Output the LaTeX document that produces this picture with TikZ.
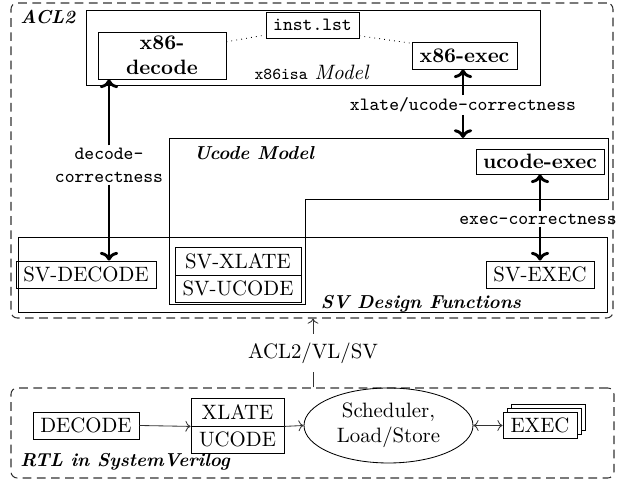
\documentclass[tikz,border=0pt]{standalone}
\usetikzlibrary{fit,shapes.geometric,shadows,arrows.meta}
\tikzset{
  box/.style={draw, inner sep=0pt},
  txt/.style={label={[inner sep=0pt, align=center]center:#1}},
  btxt/.style={label={[inner sep=0pt, align=center, font=\bfseries]center:#1}},
  thickarrow/.style={-{To[scale=0.9]}, line width=1.4pt},
  thinarrow/.style={->, black!80},
  dashedbox/.style={draw=black!80, line width=0.5pt, dash pattern=on 4.2pt off 2.6pt, rounded corners=3pt, inner sep=0pt},
  ttlabel/.style={font=\small\ttfamily, inner sep=1pt},
  bilabel/.style={font=\small\bfseries\itshape, inner sep=0pt},
}
\begin{document}
\begin{tikzpicture}[x=0.4808pt,y=-0.4808pt]
\useasboundingbox (0,0) rectangle (617,479);

% ---------- ACL2 region ----------
\node[dashedbox, fit={(11,3)(613,318)}] (acl2) {};
\node[bilabel, anchor=west] (acl2lbl) at (20,17) {ACL2};

% x86isa model
\node[box, fit={(86,10)(540,85)}] (isa) {};
\node[inner sep=0pt] (isalbl) at (312,72) {{\footnotesize\ttfamily x86isa} \textit{Model}};
\node[box, fit={(98,32)(226,79)}, btxt={x86-\\decode}] (dec) {};
\node[box, fit={(266,12)(359,38)}, label={[inner sep=0pt, font=\small\ttfamily]center:inst.lst}] (inst) {};
\node[box, fit={(412,42)(517,69)}, btxt={x86-exec}] (xexec) {};
\draw[dotted] (dec.12) -- (inst.192);
\draw[dotted] (inst.-13) -- (xexec.167);

% Ucode model (L-shaped outline)
\draw (169,138) coordinate (ucNW) -- (608,138) -- (608,199) -- (305,199) -- (305,304) -- (169,304) -- cycle;
\coordinate (uctop) at (463,138);
\node[bilabel] (uclbl) at (254,153) {Ucode Model};
\node[box, fit={(476,149)(604,174)}, btxt={ucode-exec}] (uexec) {};

% SV design functions
\node[box, fit={(18,237)(607,312)}] (sv) {};
\node[bilabel] (svlbl) at (421,304) {SV Design Functions};
\node[box, fit={(16,261)(156,288)}, txt={SV-DECODE}] (svdec) {};
\node[box, fit={(175,247)(301,275)}, txt={SV-XLATE}] (svx) {};
\node[box, fit={(175,275)(301,302)}, txt={SV-UCODE}] (svu) {};
\node[box, fit={(486,261)(594,288)}, txt={SV-EXEC}] (svexec) {};

% correctness arrows
\node[ttlabel, align=center] (dcl) at (109,165) {decode-\\correctness};
\draw[thickarrow] (dcl.north) -- (dcl.north |- dec.south);
\draw[thickarrow] (dcl.south) -- (dcl.south |- svdec.north);

\node[ttlabel] (xcl) at (463,105) {xlate/ucode-correctness};
\draw[thickarrow] (xcl.north) -- (xcl.north |- xexec.south);
\draw[thickarrow] (xcl.south) -- (uctop);

\node[ttlabel] (ecl) at (538,219) {exec-correctness};
\coordinate (ex) at (540,0);
\draw[thickarrow] (ecl.north -| ex) -- (ex |- uexec.south);
\draw[thickarrow] (ecl.south -| ex) -- (ex |- svexec.north);

% ---------- RTL region ----------
\node[dashedbox, fit={(11,388)(614,478)}] (rtl) {};
\node[bilabel, anchor=west] (rtllbl) at (20,462) {RTL in SystemVerilog};

\node[box, fit={(33,412)(139,439)}, txt={DECODE}] (decode) {};
\node[box, fit={(191,398)(284,426)}, txt={XLATE}] (xlate) {};
\node[box, fit={(191,426)(284,453)}, txt={UCODE}] (ucode) {};
\node[draw, ellipse, inner sep=0pt, minimum width=81.25pt, minimum height=36.06pt, align=center] (sched) at (388.5,425.5) {Scheduler,\\Load/Store};
\node[box, fill=white, fit={(503,412)(577,438)}, double copy shadow={shadow xshift=1.92pt, shadow yshift=1.92pt}, txt={EXEC}] (exec) {};

\draw[thinarrow] (decode.east) -- (xlate.south west);
\draw[thinarrow] (xlate.south east) -- (sched.west);
\draw[<->, black!80] (sched.east) -- (sched.east -| exec.west);

% ACL2/VL/SV translation
\coordinate (vl) at (313,0);
\draw[thinarrow] (rtl.north -| vl) -- node[fill=white, text=black, inner sep=4pt] (vllbl) {ACL2/VL/SV} (acl2.south -| vl);

\end{tikzpicture}
\end{document}
